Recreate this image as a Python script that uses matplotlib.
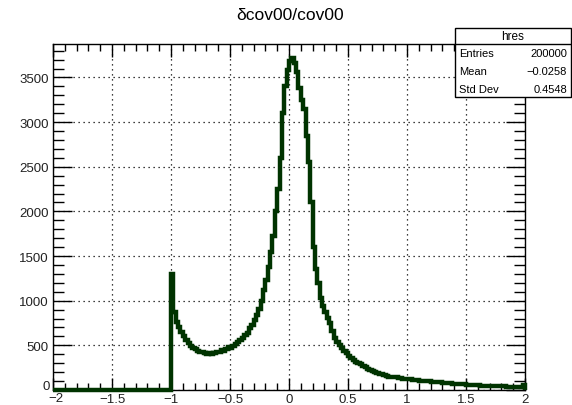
import numpy as np
import matplotlib.pyplot as plt
import matplotlib.transforms as mtransforms
from matplotlib.ticker import MultipleLocator, FuncFormatter
from matplotlib.patches import Rectangle
from matplotlib.lines import Line2D

plt.rcParams['font.family'] = ['Liberation Sans', 'DejaVu Sans']

# histogram hres: bins of 0.02 from -2 to 2, counts
x_lo, x_hi = -2.0, 2.0
zeros_left = [0] * 50  # -2 .. -1 is empty
counts_right = [
    1300, 870, 760, 700, 645, 600, 560, 525, 495, 470,
    455, 440, 430, 420, 415, 405, 412, 400, 410, 420,
    430, 445, 440, 462, 482, 470, 492, 510, 532, 560,
    580, 612, 640, 690, 730, 780, 840, 910, 1000, 1120,
    1230, 1380, 1550, 1730, 2000, 2250, 2600, 3100, 3400, 3580,
    3680, 3720, 3660, 3560, 3380, 3250, 3150, 2850, 2550, 2100,
    1600, 1350, 1200, 1030, 940, 870, 810, 750, 660, 580,
    540, 500, 470, 440, 410, 380, 362, 340, 318, 300,
    286, 270, 256, 236, 226, 215, 200, 192, 180, 176,
    165, 160, 150, 146, 140, 141, 134, 130, 128, 125,
    122, 120, 114, 112, 110, 105, 104, 100, 98, 96,
    95, 90, 88, 87, 84, 80, 78, 77, 74, 72,
    70, 68, 67, 64, 62, 60, 58, 58, 55, 54,
    52, 50, 50, 48, 47, 46, 44, 44, 42, 41,
    40, 41, 38, 37, 36, 37, 35, 34, 38, 55,
]
counts = np.array(zeros_left + counts_right)
edges = np.linspace(x_lo, x_hi, len(counts) + 1)

title = "\u03b4cov00/cov00"
stats_name = "hres"
stats_rows = [("Entries", "200000"), ("Mean", "\u22120.0258"), ("Std Dev", "0.4548")]

W, H = 572, 406
fig = plt.figure(figsize=(W / 100, H / 100), dpi=100)
ax = fig.add_axes([53 / W, (H - 391) / H, 472 / W, 346 / H])

ax.stairs(counts, edges, color='#003300', lw=3.2, clip_on=False, zorder=3)

ax.set_xlim(-2, 2)
ax.set_ylim(0, 3875)

ax.xaxis.set_major_locator(MultipleLocator(0.5))
ax.xaxis.set_minor_locator(MultipleLocator(0.1))
ax.yaxis.set_major_locator(MultipleLocator(500))
ax.yaxis.set_minor_locator(MultipleLocator(100))

def fmt_x(v, pos):
    if abs(v - x_lo) < 1e-9:
        return ''  # drawn by hand below, ROOT puts it a bit lower
    return ('%g' % v).replace('-', '\u2212')

def fmt_y(v, pos):
    return '' if v == 0 else '%d' % v

ax.xaxis.set_major_formatter(FuncFormatter(fmt_x))
ax.yaxis.set_major_formatter(FuncFormatter(fmt_y))

lab_size = 9.5
ax.tick_params(axis='both', which='both', direction='in', top=True, right=True,
               labelsize=lab_size, colors='black', labelcolor='#222222')
ax.tick_params(axis='x', which='major', length=9, width=1, pad=2)
ax.tick_params(axis='x', which='minor', length=5, width=1)
ax.tick_params(axis='y', which='major', length=14, width=1, pad=3)
ax.tick_params(axis='y', which='minor', length=8, width=1)

ax.grid(True, which='major', color='black', linestyle=(0, (1, 3)), lw=0.9)
for s in ax.spines.values():
    s.set_linewidth(1)
    s.set_color('black')

# corner labels "0" and "-2", offset like ROOT does
off_y0 = mtransforms.ScaledTranslation(-3 / 100, 4 / 100, fig.dpi_scale_trans)
ax.text(0, 0, '0', transform=ax.transAxes + off_y0, ha='right', va='center',
        fontsize=lab_size, color='#222222')
off_x0 = mtransforms.ScaledTranslation(3 / 100, -2 / 100, fig.dpi_scale_trans)
ax.text(0, 0, '\u22122', transform=ax.transAxes + off_x0,
        ha='center', va='top', fontsize=lab_size, color='#222222')

fig.text(290 / W, 1 - 16 / H, title, ha='center', va='center', fontsize=12.5)

# stats box
bx0, bx1, by0, by1 = 455, 571, 29, 98
fig.patches.append(Rectangle((bx0 / W, 1 - by1 / H), (bx1 - bx0) / W, (by1 - by0) / H,
                             transform=fig.transFigure, facecolor='white',
                             edgecolor='black', lw=1, zorder=5))
fig.lines.append(Line2D([bx0 / W, bx1 / W], [1 - 45 / H, 1 - 45 / H],
                        transform=fig.transFigure, color='black', lw=1, zorder=6))
fig.text((bx0 + bx1) / 2 / W, 1 - 37 / H, stats_name, ha='center', va='center',
         fontsize=8.5, zorder=7)
for i, (k, v) in enumerate(stats_rows):
    yy = 1 - (54 + 18 * i) / H
    fig.text((bx0 + 4) / W, yy, k, ha='left', va='center', fontsize=8, zorder=7)
    fig.text((bx1 - 4) / W, yy, v, ha='right', va='center', fontsize=8, zorder=7)

fig.savefig('out.png', dpi=100)
